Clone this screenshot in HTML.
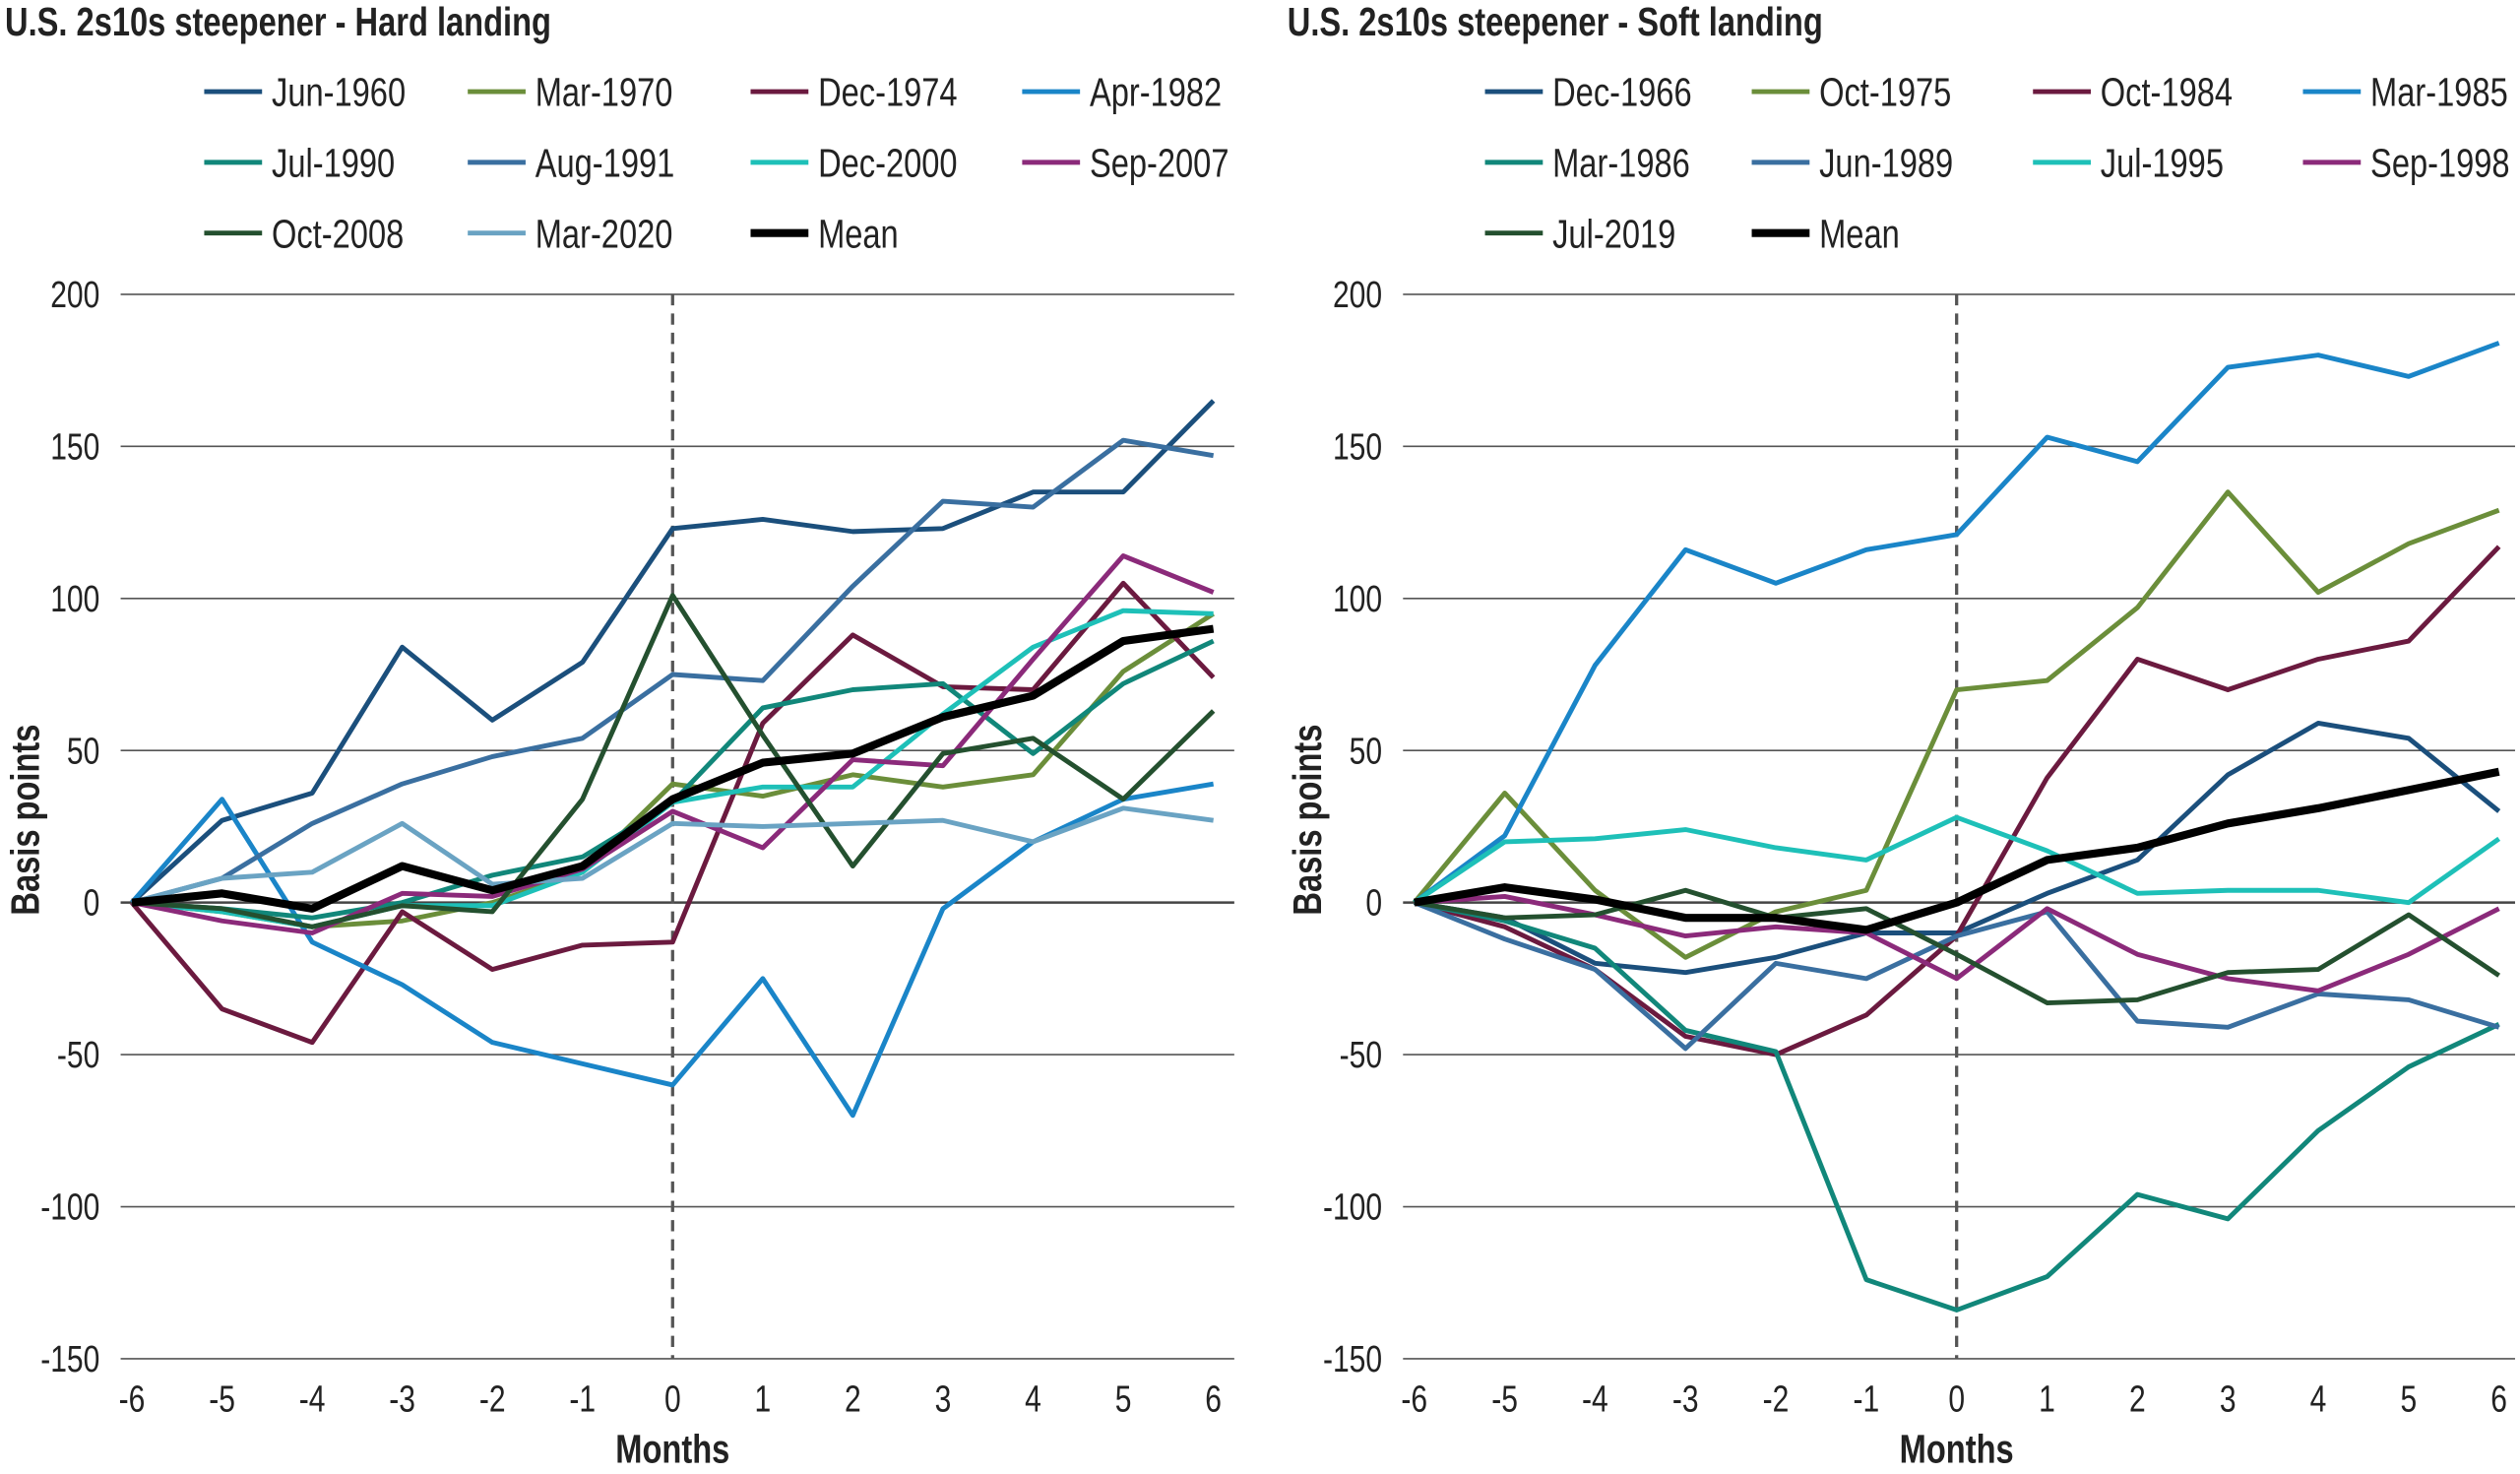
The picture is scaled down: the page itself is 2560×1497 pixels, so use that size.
<!DOCTYPE html>
<html><head><meta charset="utf-8"><style>
html,body{margin:0;padding:0;background:#fff;}
svg{display:block;}
text{font-family:"Liberation Sans",sans-serif;fill:#222;}
</style></head><body>
<svg id="s" width="2560" height="1497" viewBox="0 0 1568 917" xmlns="http://www.w3.org/2000/svg"></svg>
<script>
const S=document.getElementById('s');let h='';
const yv=v=>561.5-v*94.6/50;
const SX=0.8;
function T(x,y,txt,size,anchor,bold,rot){
  return `<g transform="translate(${x},${y})${rot?' rotate(-90)':''} scale(${SX},1)"><text x="0" y="0" font-size="${size}" text-anchor="${anchor||'start'}"${bold?' font-weight="bold" fill="#111"':''}>${txt}</text></g>`;
}
function chart(x0,step,gl,gr,title,series,lcols){
  h+=T(gl-72,22,title,25,'start',true);
  for(let v=-150;v<=200;v+=50){const y=yv(v);
    h+=`<line x1="${gl}" x2="${gr}" y1="${y}" y2="${y}" stroke="${v==0?'#444':'#555'}" stroke-width="${v==0?1.5:1}"/>`;
    h+=T(x0-20,y+8,v,23,'end');}
  for(let m=-6;m<=6;m++){h+=T(x0+(m+6)*step,878,m,23,'middle');}
  const xz=x0+6*step;
  h+=`<line x1="${xz}" x2="${xz}" y1="183" y2="845" stroke="#555" stroke-width="2" stroke-dasharray="7,5"/>`;
  h+=T(xz,910,'Months',25,'middle',true);
  h+=T(x0-58,510,'Basis points',25,'middle',true,true);
  series.forEach((s,i)=>{
    const pts=s[2].map((v,k)=>`${(x0+k*step).toFixed(1)},${yv(v).toFixed(1)}`).join(' ');
    const w=s[0]=='Mean'?5:3;
    h+=`<polyline points="${pts}" fill="none" stroke="${s[1]}" stroke-width="${w}" stroke-linejoin="round"/>`;
    const r=Math.floor(i/4),c=i%4,ly=57+r*44;
    h+=`<line x1="${lcols[c]}" x2="${lcols[c]+36}" y1="${ly}" y2="${ly}" stroke="${s[1]}" stroke-width="${w}"/>`;
    h+=T(lcols[c]+42,ly+9,s[0],25,'start');
  });
}
chart(82,56.08,75,768,'U.S. 2s10s steepener - Hard landing',[
['Jun-1960','#1b4f7c',[0,27,36,84,60,79,123,126,122,123,135,135,165]],
['Mar-1970','#6b8e3a',[0,-3,-8,-6,0,10,39,35,42,38,42,76,95]],
['Dec-1974','#6b1a3f',[0,-35,-46,-3,-22,-14,-13,59,88,71,70,105,74]],
['Apr-1982','#1a85c8',[0,34,-13,-27,-46,-53,-60,-25,-70,-2,20,34,39]],
['Jul-1990','#11877a',[0,-2,-5,0,9,15,33,64,70,72,49,72,86]],
['Aug-1991','#3a6fa0',[0,8,26,39,48,54,75,73,104,132,130,152,147]],
['Dec-2000','#1ec0b8',[0,-3,-8,-1,-1,10,33,38,38,62,84,96,95]],
['Sep-2007','#8b2a7a',[0,-6,-10,3,2,11,30,18,47,45,80,114,102]],
['Oct-2008','#24502f',[0,-2,-8,-1,-3,34,101,55,12,49,54,34,63]],
['Mar-2020','#6aa3c3',[0,8,10,26,6,8,26,25,26,27,20,31,27]],
['Mean','#000',[0,3,-2,12,4,12,34,46,49,61,68,86,90]]
],[127,291,467,636]);
chart(880,56.25,873,1565,'U.S. 2s10s steepener - Soft landing',[
['Dec-1966','#1b4f7c',[0,-5,-20,-23,-18,-10,-10,3,14,42,59,54,30]],
['Oct-1975','#6b8e3a',[0,36,4,-18,-3,4,70,73,97,135,102,118,129]],
['Oct-1984','#6b1a3f',[0,-8,-22,-44,-50,-37,-11,41,80,70,80,86,117]],
['Mar-1985','#1a85c8',[0,22,78,116,105,116,121,153,145,176,180,173,184]],
['Mar-1986','#11877a',[0,-6,-15,-42,-49,-124,-134,-123,-96,-104,-75,-54,-40]],
['Jun-1989','#3a6fa0',[0,-12,-22,-48,-20,-25,-11,-3,-39,-41,-30,-32,-41]],
['Jul-1995','#1ec0b8',[0,20,21,24,18,14,28,17,3,4,4,0,21]],
['Sep-1998','#8b2a7a',[0,2,-4,-11,-8,-10,-25,-2,-17,-25,-29,-17,-2]],
['Jul-2019','#24502f',[0,-5,-4,4,-5,-2,-17,-33,-32,-23,-22,-4,-24]],
['Mean','#000',[0,5,1,-5,-5,-9,0,14,18,26,31,37,43]]
],[924,1090,1265,1433]);
S.innerHTML=h;
</script>
</body></html>
